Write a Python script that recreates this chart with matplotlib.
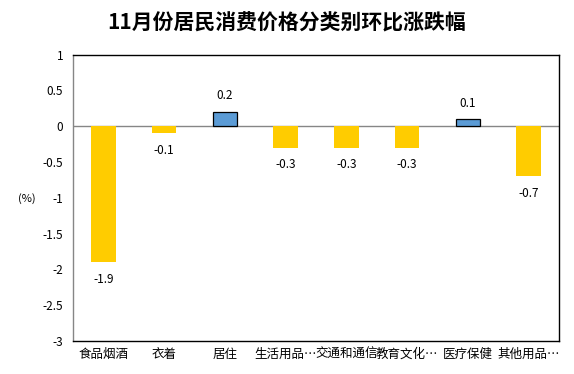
import matplotlib
matplotlib.use("Agg")
import matplotlib.pyplot as plt

plt.rcParams['font.family'] = ['Noto Sans CJK SC', 'DejaVu Sans']

title = "11月份居民消费价格分类别环比涨跌幅"
categories = ["食品烟酒", "衣着", "居住", "生活用品…", "交通和通信", "教育文化…", "医疗保健", "其他用品…"]
values = [-1.9, -0.1, 0.2, -0.3, -0.3, -0.3, 0.1, -0.7]
yticks = [1, 0.5, 0, -0.5, -1, -1.5, -2, -2.5, -3]
ytick_labels = ["1", "0.5", "0", "-0.5", "-1", "-1.5", "-2", "-2.5", "-3"]

yellow = "#FFCC00"
blue = "#5B9BD5"

fig = plt.figure(figsize=(5.74, 3.74), dpi=100)
ax = fig.add_axes([73/574, 1-341/374, (559-73)/574, (341-54.7)/374])

x = list(range(len(categories)))
colors = [blue if v > 0 else yellow for v in values]
edges = ["black" if v > 0 else yellow for v in values]
lws = [0.9 if v > 0 else 0 for v in values]
bars = ax.bar(x, values, width=0.4, color=colors, edgecolor=edges, linewidth=lws, zorder=3)

for xi, v in zip(x, values):
    off = 16 if v > 0 else -17
    ax.annotate(f"{v:g}", (xi, v), xytext=(0, off), textcoords="offset pixels",
                ha="center", va="center", fontsize=8.5)

ax.axhline(0, color="#868686", lw=1, zorder=2)
ax.set_xlim(-0.5, len(categories) - 0.5)
ax.set_ylim(-3, 1)
ax.set_yticks(yticks)
ax.set_yticklabels(ytick_labels, fontsize=8.5)
ax.set_xticks(x)
ax.set_xticklabels(categories, fontsize=9)
ax.tick_params(axis="both", length=0)
ax.tick_params(axis="y", pad=7)
ax.tick_params(axis="x", pad=5)

for s in ["top", "right", "bottom"]:
    ax.spines[s].set_color("black")
    ax.spines[s].set_linewidth(1.0)
ax.spines["left"].set_color("#868686")
ax.spines["left"].set_linewidth(1.0)

fig.text(27/574, 1-199/374, "(%)", fontsize=8, ha="center", va="center")
fig.text(287/574, 1-23/374, title, fontsize=15, fontweight="bold", ha="center", va="center")

fig.savefig("out.png", dpi=100)
